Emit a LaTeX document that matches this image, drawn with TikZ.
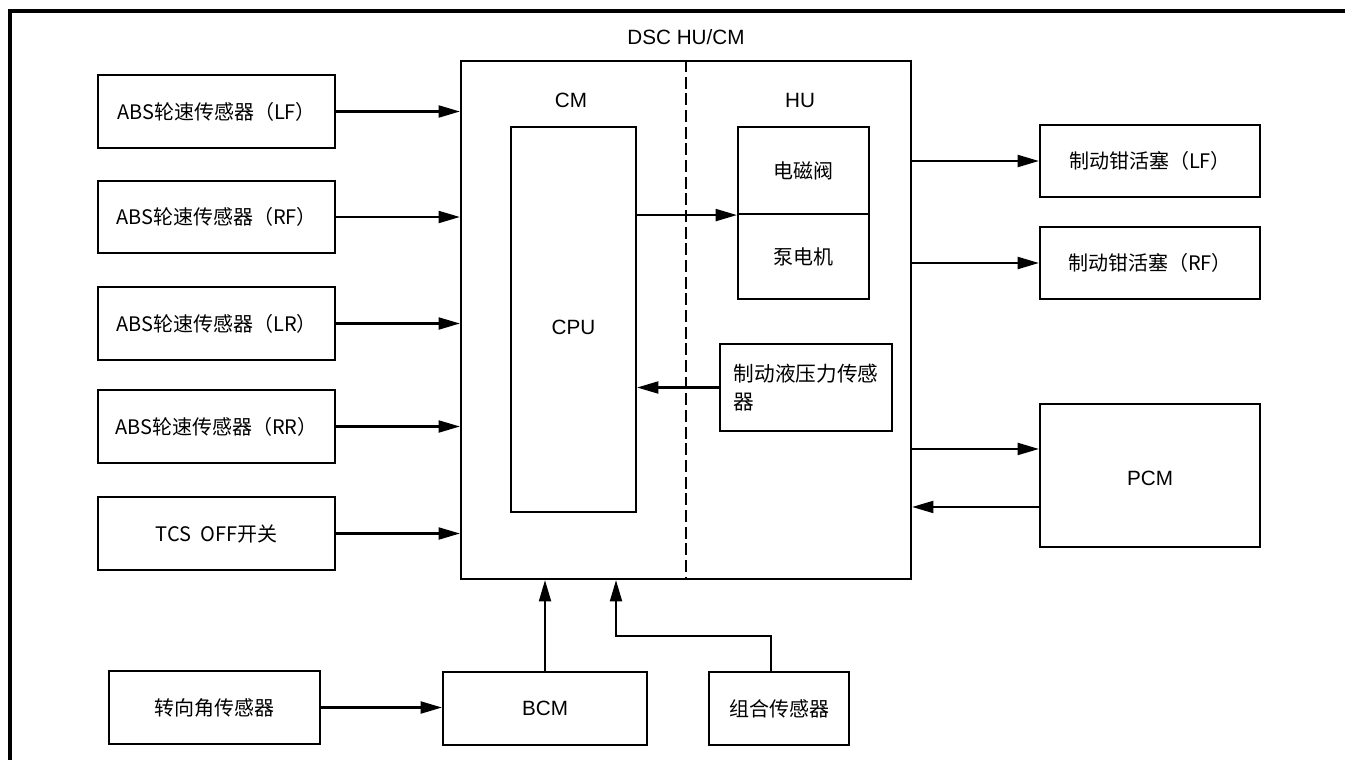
\documentclass[tikz,border=0pt]{standalone}
\usepackage{fontspec}
\setmainfont{Liberation Sans}
\newfontfamily\cjk{Noto Sans CJK SC}
\usetikzlibrary{arrows.meta,calc}
\begin{document}
\begin{tikzpicture}[x=0.75pt,y=-0.75pt,
  box/.style 2 args={draw, line width=1.6pt, inner sep=0pt, minimum width=#1*0.75pt, minimum height=#2*0.75pt, font=\cjk\fontsize{15pt}{18pt}\selectfont},
  arr/.style={line width=1.6pt, -{Triangle[length=16pt,width=9pt]}},
  lbl/.style={font=\fontsize{15.5pt}{18pt}\selectfont},
  every node/.style={text=black}]
\useasboundingbox (0,0) rectangle (1345,760);
% outer frame
\draw[line width=2.4pt] (10,760) -- (10,11) -- (1345,11);
% main box
\node[draw, line width=1.7pt, minimum width=450*0.75pt, minimum height=518*0.75pt, inner sep=0pt] (main) at (686,320) {};
\draw[line width=1.5pt, dash pattern=on 9pt off 3.5pt] (main.north) -- (main.south);
\node[lbl] (title) at (686,37) {DSC HU/CM};
\node[lbl] (cmlbl) at (571,100) {CM};
\node[lbl] (hulbl) at (800,100) {HU};
% inner boxes
\node[box={125}{385}] (cpu) at (573.5,319.5) {};
\node[lbl] (cputxt) at (573.5,327) {CPU};
\node[box={131}{87}] (sol) at (803.5,170.5) {电磁阀};
\node[box={131}{85}] (pump) at (803.5,256.5) {泵电机};
\node[box={172}{87}, align=left, font=\cjk\fontsize{15.5pt}{21pt}\selectfont] (press) at (806,387.5) {制动液压力传感\\器\hspace*{6em}};
\draw[arr] (sol.south west -| cpu.east) -- (sol.south west);
\draw[arr] (press.west) -- (press.west -| cpu.east);
% left inputs
\node[box={237}{73}] (lf) at (216.5,111.5) {ABS轮速传感器（LF）};
\node[box={237}{72}] (rf) at (216.5,217) {ABS轮速传感器（RF）};
\node[box={237}{73}] (lr) at (216.5,323.5) {ABS轮速传感器（LR）};
\node[box={237}{73}] (rr) at (216.5,426.5) {ABS轮速传感器（RR）};
\node[box={237}{73}] (tcs) at (216.5,533.5) {TCS\ \ OFF开关};
\foreach \n in {lf,rf,lr,rr,tcs}{\draw[arr] (\n.east) -- (\n.east -| main.west);}
% right outputs
\node[box={220}{72}] (clf) at (1150,161) {制动钳活塞（LF）};
\node[box={220}{72}] (crf) at (1150,263) {制动钳活塞（RF）};
\node[box={220}{143}] (pcm) at (1150,475.5) {};
\node[lbl] (pcmtxt) at (1150,478) {PCM};
\draw[arr] (clf.west -| main.east) -- (clf.west);
\draw[arr] (crf.west -| main.east) -- (crf.west);
\draw[arr] ([yshift=19.9pt]pcm.west -| main.east) -- ([yshift=19.9pt]pcm.west);
\draw[arr] ([yshift=-23.6pt]pcm.west) -- ([yshift=-23.6pt]pcm.west -| main.east);
% bottom
\node[box={211}{73}] (steer) at (214.5,707.5) {转向角传感器};
\node[box={204}{73}] (bcm) at (545,708.5) {};
\node[lbl] (bcmtxt) at (545,708.5) {BCM};
\node[box={140}{73}] (combo) at (779,708.5) {组合传感器};
\draw[arr] (steer.east) -- (steer.east -| bcm.west);
\draw[arr] (bcm.north) -- (bcm.north |- main.south);
\coordinate (bend) at (616,636);
\draw[arr] ([xshift=-6pt]combo.north) |- (bend) -- (bend |- main.south);
\end{tikzpicture}
\end{document}
